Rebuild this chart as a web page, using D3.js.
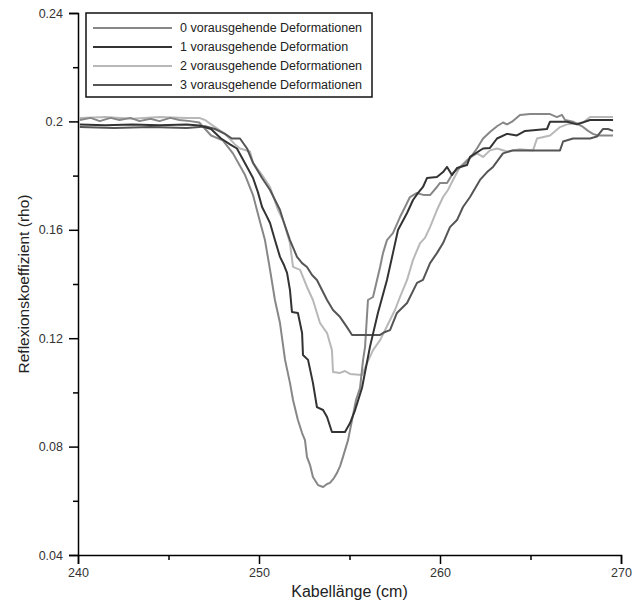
<!DOCTYPE html>
<html>
<head>
<meta charset="utf-8">
<script src="https://cdn.jsdelivr.net/npm/d3@7"></script>
<style>
  body { margin: 0; background: #fff; }
  text { font-family: "Liberation Sans", Arial, sans-serif; }
</style>
</head>
<body>
<div id="chart"></div>
<script>
// [Kabellänge cm, rho]
const s0 = [[240.1,0.2005],[240.7,0.2013],[241.2,0.2001],[241.8,0.2013],[242.3,0.2005],[242.9,0.2013],[243.4,0.2001],[244.0,0.2010],[244.5,0.2001],[245.1,0.2013],[245.6,0.2005],[246.2,0.2001],[246.7,0.1996],
  [247.35,0.1948],[248.0,0.1930],[248.56,0.1882],[249.23,0.1802],[249.67,0.1728],[250.06,0.1629],[250.33,0.1562],[250.61,0.1452],[250.88,0.1341],[251.16,0.1256],[251.44,0.1120],[251.71,0.1035],[251.88,0.0972],[252.15,0.0898],[252.38,0.0850],[252.54,0.0824],[252.65,0.0762],[252.82,0.0732],[252.98,0.0688],[253.26,0.0658],[253.54,0.0651],[253.76,0.0662],[253.92,0.0666],[254.14,0.0684],[254.31,0.0703],[254.48,0.0728],[254.64,0.0762],[254.92,0.0824],[255.14,0.0898],[255.36,0.0972],[255.58,0.1016],[255.75,0.1120],[255.86,0.1168],[256.02,0.1341],[256.30,0.1352],[256.69,0.1463],[256.85,0.1514],[257.07,0.1562],[257.40,0.1588],[257.79,0.1647],[258.07,0.1684],[258.34,0.1721],[258.73,0.1736],[259.12,0.1728],[259.45,0.1728],[259.83,0.1758],[260.0,0.1773],[260.39,0.1773],[260.72,0.1810],[261.27,0.1839],[261.66,0.1865],[262.04,0.1900],[262.38,0.1937],[262.76,0.1961],[263.15,0.1982],[263.48,0.1996],[263.7,0.1989],[263.98,0.1999],[264.42,0.2024],[264.97,0.2027],[266.08,0.2027],[266.46,0.2016],[266.74,0.2024],[266.91,0.2005],[267.35,0.1999],[267.85,0.1982],[268.18,0.1965],[268.45,0.1954],[268.73,0.1948],[269.56,0.1948]];

const s1 = [[240.1,0.1989],[241.5,0.1986],[243.0,0.1989],[244.5,0.1986],[246.0,0.1989],[246.7,0.1985],
  [247.35,0.1972],[247.9,0.1937],[248.4,0.1915],[248.78,0.1900],[249.34,0.1832],[249.67,0.1791],[249.94,0.1739],[250.17,0.1684],[250.39,0.1655],[250.61,0.1625],[250.88,0.1562],[251.16,0.1500],[251.38,0.1470],[251.55,0.1441],[251.71,0.1378],[251.82,0.1297],[252.15,0.1293],[252.38,0.1219],[252.43,0.1138],[252.71,0.1120],[252.98,0.1035],[253.2,0.0946],[253.54,0.0935],[253.76,0.0909],[254.03,0.0854],[254.75,0.0854],[255.03,0.0887],[255.31,0.0935],[255.69,0.1016],[256.13,0.1168],[256.57,0.1293],[257.07,0.1415],[257.4,0.1514],[257.68,0.1599],[258.18,0.1662],[258.51,0.1710],[258.79,0.1736],[259.06,0.1758],[259.28,0.1791],[259.83,0.1795],[260.17,0.1813],[260.39,0.1832],[260.66,0.1802],[260.94,0.1828],[261.49,0.1839],[261.66,0.1869],[262.38,0.1900],[262.76,0.1902],[263.15,0.1937],[263.7,0.1954],[264.25,0.1948],[264.7,0.1965],[265.91,0.1972],[266.08,0.1999],[267.02,0.1999],[267.57,0.1989],[268.29,0.2005],[269.56,0.2005]];

const s2 = [[240.1,0.2013],[241.5,0.2016],[243.0,0.2010],[244.5,0.2016],[246.0,0.2013],[246.7,0.2013],
  [247.02,0.2005],[247.57,0.1979],[248.12,0.1954],[248.67,0.1915],[248.95,0.1900],[249.5,0.1889],[249.67,0.1847],[250.17,0.1802],[250.61,0.1758],[251.05,0.1673],[251.33,0.1636],[251.71,0.1551],[251.88,0.1463],[252.27,0.1452],[252.65,0.1389],[252.98,0.1341],[253.37,0.1256],[253.76,0.1219],[254.03,0.1156],[254.09,0.1075],[254.48,0.1072],[254.75,0.1079],[255.03,0.1068],[255.69,0.1064],[255.97,0.1108],[256.3,0.1156],[256.69,0.1193],[257.24,0.1267],[257.51,0.1304],[257.79,0.1352],[258.18,0.1415],[258.51,0.1489],[258.9,0.1551],[259.17,0.1570],[259.45,0.1610],[259.83,0.1673],[260.17,0.1721],[260.44,0.1747],[260.72,0.1784],[261.1,0.1832],[261.49,0.1858],[262.04,0.1882],[262.38,0.1869],[262.76,0.1893],[263.15,0.1900],[263.7,0.1889],[264.42,0.1897],[265.14,0.1893],[265.36,0.1937],[266.08,0.1948],[266.63,0.1979],[267.02,0.1989],[267.9,0.1996],[268.29,0.2016],[269.56,0.2016]];

const s3 = [[240.1,0.1979],[242.0,0.1976],[244.0,0.1979],[246.0,0.1976],[246.7,0.1979],
  [247.02,0.1982],[247.57,0.1972],[248.12,0.1954],[248.5,0.1937],[248.95,0.1937],[249.34,0.1900],[249.67,0.1847],[250.17,0.1791],[250.61,0.1747],[251.16,0.1673],[251.33,0.1636],[251.71,0.1562],[252.1,0.1500],[252.38,0.1477],[252.65,0.1463],[252.93,0.1433],[253.2,0.1415],[253.48,0.1378],[253.76,0.1341],[254.09,0.1304],[254.48,0.1278],[254.86,0.1241],[255.14,0.1212],[256.69,0.1212],[256.96,0.1223],[257.24,0.1230],[257.62,0.1293],[258.18,0.1330],[258.73,0.1404],[259.06,0.1415],[259.45,0.1477],[259.83,0.1514],[260.17,0.1551],[260.55,0.1610],[260.94,0.1636],[261.27,0.1684],[261.66,0.1721],[262.21,0.1784],[262.6,0.1813],[262.93,0.1832],[263.48,0.1882],[264.03,0.1893],[266.63,0.1893],[266.8,0.1926],[267.35,0.1937],[268.29,0.1937],[268.67,0.1944],[269.01,0.1972],[269.28,0.1972],[269.56,0.1965]];

const seriesNames = ["0 vorausgehende Deformationen", "1 vorausgehende Deformation",
  "2 vorausgehende Deformationen", "3 vorausgehende Deformationen"];
const seriesColors = ["#878787", "#333333", "#b8b8b8", "#555555"];
const xMajor = [240, 250, 260, 270];
const xMinor = [245, 255, 265];
const yMajor = [0.04, 0.08, 0.12, 0.16, 0.2, 0.24];
const yMinor = [0.06, 0.10, 0.14, 0.18, 0.22];

const width = 641, height = 601;
const margin = { top: 13, right: 20, bottom: 46, left: 78 };
const plotW = width - margin.left - margin.right;
const plotH = height - margin.top - margin.bottom;

const svg = d3.select("#chart").append("svg")
  .attr("width", width)
  .attr("height", height);

const g = svg.append("g")
  .attr("transform", `translate(${margin.left},${margin.top})`);

const x = d3.scaleLinear().domain([240, 270]).range([0, plotW]);
const y = d3.scaleLinear().domain([0.04, 0.24]).range([plotH, 0]);

const line = d3.line().x(d => x(d[0])).y(d => y(d[1]));

const allSeries = [s0, s1, s2, s3];
// light ones first so the dark lines stay on top
[2, 0, 3, 1].forEach(i => {
  g.append("path")
    .datum(allSeries[i])
    .attr("fill", "none")
    .attr("stroke", seriesColors[i])
    .attr("stroke-width", 2)
    .attr("stroke-linejoin", "round")
    .attr("d", line);
});

// axes
g.append("g")
  .attr("transform", `translate(0,${plotH})`)
  .call(d3.axisBottom(x).tickValues(xMajor).tickSize(9).tickPadding(4).tickFormat(d3.format("d")));
g.append("g")
  .attr("transform", `translate(0,${plotH})`)
  .call(d3.axisBottom(x).tickValues(xMinor).tickSize(5).tickFormat(""))
  .call(a => a.select(".domain").remove());

g.append("g")
  .call(d3.axisLeft(y).tickValues(yMajor).tickSize(9).tickPadding(6).tickFormat(d => String(+d.toFixed(2))));
g.append("g")
  .call(d3.axisLeft(y).tickValues(yMinor).tickSize(5).tickFormat(""))
  .call(a => a.select(".domain").remove());

svg.selectAll(".domain").attr("stroke", "#000").attr("stroke-width", 1.5);
svg.selectAll(".tick line").attr("stroke", "#000").attr("stroke-width", 1.5);
svg.selectAll(".tick text").attr("fill", "#333").style("font-size", "12.5px");

// axis titles
g.append("text")
  .attr("x", plotW / 2)
  .attr("y", plotH + 42)
  .attr("text-anchor", "middle")
  .attr("fill", "#222")
  .style("font-size", "16px")
  .text("Kabellänge (cm)");

g.append("text")
  .attr("transform", `translate(${24 - margin.left},${plotH / 2}) rotate(-90)`)
  .attr("text-anchor", "middle")
  .attr("dy", "0.35em")
  .attr("fill", "#222")
  .style("font-size", "15.5px")
  .text("Reflexionskoeffizient (rho)");

// legend
const legend = svg.append("g").attr("transform", "translate(86,13)");
legend.append("rect")
  .attr("width", 286)
  .attr("height", 84)
  .attr("fill", "#fff")
  .attr("stroke", "#111")
  .attr("stroke-width", 1.5);

seriesNames.forEach((name, i) => {
  const row = legend.append("g").attr("transform", `translate(0,${15 + i * 19})`);
  row.append("line")
    .attr("x1", 7).attr("x2", 86)
    .attr("stroke", seriesColors[i])
    .attr("stroke-width", 2);
  row.append("text")
    .attr("x", 94)
    .attr("dy", "0.35em")
    .attr("fill", "#222")
    .style("font-size", "12.5px")
    .text(name);
});
</script>
</body>
</html>
